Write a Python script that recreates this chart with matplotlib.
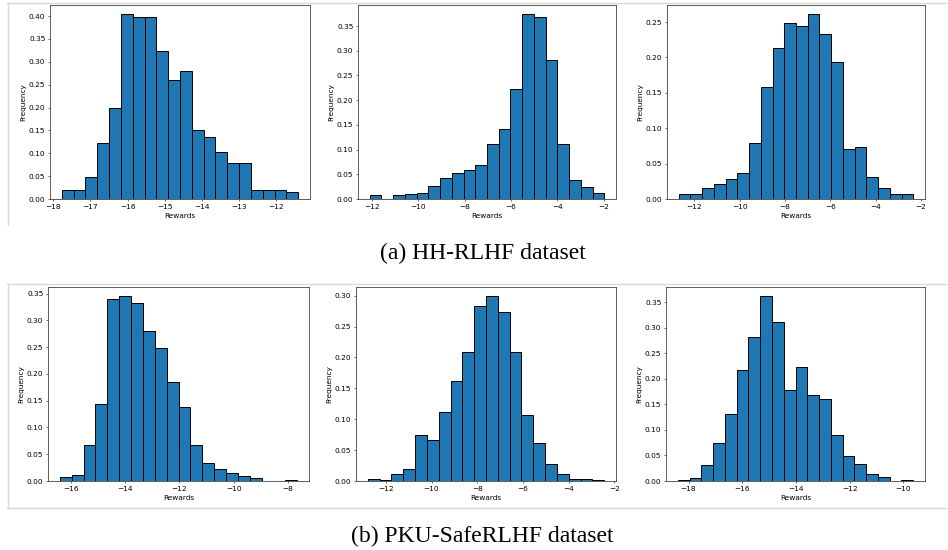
import numpy as np
import matplotlib
matplotlib.use("Agg")
import matplotlib.pyplot as plt
from matplotlib.lines import Line2D

# ---- data (density heights per bin; 20 equal-width bins between lo and hi) ----
hh1_range = (-17.77, -11.41)
hh1_heights = [0.020, 0.020, 0.049, 0.122, 0.199, 0.404, 0.399, 0.399, 0.323, 0.261,
               0.280, 0.150, 0.135, 0.102, 0.078, 0.078, 0.020, 0.020, 0.020, 0.0146]

hh2_range = (-12.10, -1.98)
hh2_heights = [0.0074, 0.0, 0.0074, 0.0095, 0.0128, 0.0257, 0.0433, 0.0528, 0.0596, 0.0684,
               0.111, 0.142, 0.222, 0.374, 0.368, 0.282, 0.111, 0.0393, 0.025, 0.0128]

hh3_range = (-12.69, -2.34)
hh3_heights = [0.0075, 0.0075, 0.0151, 0.0217, 0.0278, 0.0367, 0.079, 0.158, 0.214, 0.248,
               0.245, 0.261, 0.233, 0.194, 0.070, 0.073, 0.0306, 0.0151, 0.0066, 0.0066]

pku1_range = (-16.42, -7.65)
pku1_heights = [0.0081, 0.0118, 0.068, 0.144, 0.339, 0.345, 0.333, 0.280, 0.249, 0.184,
                0.138, 0.068, 0.033, 0.023, 0.0156, 0.0087, 0.0062, 0.0, 0.0, 0.0019]

pku2_range = (-12.79, -2.44)
pku2_heights = [0.0032, 0.0016, 0.0114, 0.0195, 0.0746, 0.067, 0.111, 0.162, 0.209, 0.283,
                0.299, 0.274, 0.209, 0.107, 0.062, 0.0276, 0.0114, 0.0032, 0.0032, 0.0016]

pku3_range = (-18.40, -9.63)
pku3_heights = [0.002, 0.0065, 0.032, 0.075, 0.132, 0.218, 0.282, 0.362, 0.312, 0.179,
                0.224, 0.168, 0.160, 0.090, 0.0495, 0.0339, 0.0143, 0.0078, 0.0, 0.002]

captions = ["(a) HH-RLHF dataset", "(b) PKU-SafeRLHF dataset"]
xlabel = "Rewards"
ylabel = "Frequency"

panels = [(hh1_range, hh1_heights), (hh2_range, hh2_heights), (hh3_range, hh3_heights),
          (pku1_range, pku1_heights), (pku2_range, pku2_heights), (pku3_range, pku3_heights)]

# ---- layout (pixel boxes: left, top, right, bottom) ----
W, H = 948, 550
boxes = [(50, 5, 310, 199), (358, 5, 616, 199), (667, 5, 925, 199),
         (48, 287, 309, 481), (356, 287, 616, 481), (666, 287, 925, 481)]

fig = plt.figure(figsize=(W / 100, H / 100), dpi=100)

# light gray frame lines
gray = "#d9d9d9"
for (x0, y0, x1, y1) in [(7, 2.7, 946, 2.7), (7.5, 2.7, 7.5, 225),
                         (7, 284, 946, 284), (7.5, 284, 7.5, 508), (7, 508, 946, 508)]:
    fig.add_artist(Line2D([x0 / W, x1 / W], [1 - y0 / H, 1 - y1 / H],
                          color=gray, lw=1.0, transform=fig.transFigure))

for (rng, heights), (l, t, r, b) in zip(panels, boxes):
    ax = fig.add_axes([l / W, 1 - b / H, (r - l) / W, (b - t) / H])
    edges = np.linspace(rng[0], rng[1], len(heights) + 1)
    centers = (edges[:-1] + edges[1:]) / 2
    ax.hist(centers, bins=edges, weights=heights, color="#1f77b4",
            edgecolor="black", linewidth=0.7)
    ax.set_xlabel(xlabel, fontsize=5.3, labelpad=2.2)
    ax.set_ylabel(ylabel, fontsize=5.3, labelpad=1.8)
    ax.tick_params(labelsize=5.3, length=1.7, width=0.4, pad=1.6)
    for s in ax.spines.values():
        s.set_linewidth(0.6)
        s.set_color("#444444")
    ax.yaxis.set_major_formatter(matplotlib.ticker.FormatStrFormatter("%.2f"))

fig.text(482.5 / W, 1 - 259 / H, captions[0], family="Liberation Serif",
         fontsize=17, ha="center", va="baseline")
fig.text(482.5 / W, 1 - 542 / H, captions[1], family="Liberation Serif",
         fontsize=17, ha="center", va="baseline")

fig.savefig("out.png", dpi=100)
